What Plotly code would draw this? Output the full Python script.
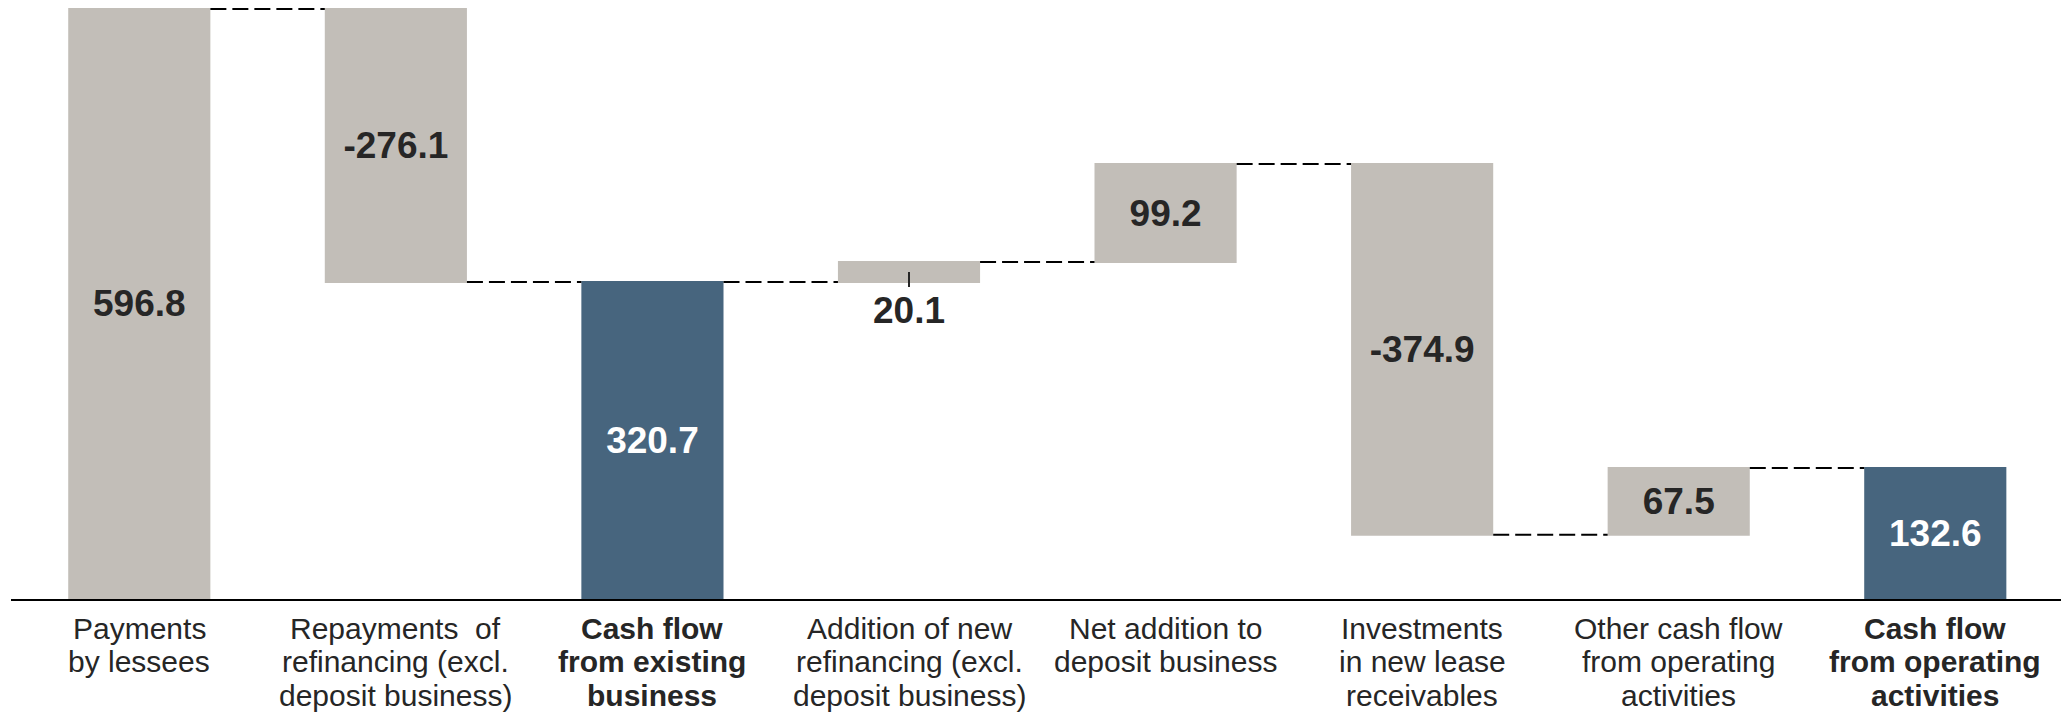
import plotly.graph_objects as go

# Cash flow bridge (EUR m)
categories = [
    "Payments<br>by lessees",
    "Repayments  of<br>refinancing (excl.<br>deposit business)",
    "Cash flow<br>from existing<br>business",
    "Addition of new<br>refinancing (excl.<br>deposit business)",
    "Net addition to<br>deposit business",
    "Investments<br>in new lease<br>receivables",
    "Other cash flow<br>from operating<br>activities",
    "Cash flow<br>from operating<br>activities",
]
values = [596.8, -276.1, 320.7, 20.1, 99.2, -374.9, 67.5, 132.6]
measures = ["relative", "relative", "total", "relative", "relative", "relative", "relative", "total"]
value_labels = ["596.8", "-276.1", "320.7", "20.1", "99.2", "-374.9", "67.5", "132.6"]
# bars whose value label sits below the bar with a short leader line
label_below = [False, False, False, True, False, False, False, False]

GREY = "#C2BEB8"
BLUE = "#47657E"
TEXT = "#262626"
FONT = "Liberation Sans, Arial, sans-serif"

x = list(range(len(values)))

text_colors = ["white" if m == "total" else TEXT for m in measures]
text_pos = ["none" if b else "inside" for b in label_below]

fig = go.Figure()
fig.add_trace(go.Waterfall(
    x=x,
    y=values,
    measure=measures,
    text=[f"<b>{t}</b>" for t in value_labels],
    texttemplate="%{text}",
    textposition=text_pos,
    insidetextanchor="middle",
    textangle=0,
    constraintext="none",
    textfont=dict(family=FONT, size=37, color=text_colors),
    increasing=dict(marker=dict(color=GREY, line=dict(width=0))),
    decreasing=dict(marker=dict(color=GREY, line=dict(width=0))),
    totals=dict(marker=dict(color=BLUE, line=dict(width=0))),
    connector=dict(mode="between", line=dict(color="black", width=2, dash="16px,6px")),
    width=0.554,
    hoverinfo="skip",
))

annotations = []
shapes = []

# running level to place labels that sit outside their bar
level = 0.0
for i, (v, m) in enumerate(zip(values, measures)):
    if m == "total":
        base, top = 0.0, v
        level = v
    else:
        base, top = level, level + v
        level = top
    if label_below[i]:
        low, high = min(base, top), max(base, top)
        shapes.append(dict(
            type="line", xref="x", yref="y",
            x0=i, x1=i, ysizemode="pixel", yanchor=(low + high) / 2,
            y0=0, y1=-15, line=dict(color=TEXT, width=2),
        ))
        annotations.append(dict(
            x=i, y=low, xref="x", yref="y", showarrow=False,
            text=f"<b>{value_labels[i]}</b>", yanchor="middle", yshift=-29,
            font=dict(family=FONT, size=37, color=TEXT),
        ))

# category labels, one annotation per line for tight line spacing
for i, (cat, m) in enumerate(zip(categories, measures)):
    for j, line in enumerate(cat.split("<br>")):
        annotations.append(dict(
            x=i, y=0, xref="x", yref="paper", showarrow=False,
            text=f"<b>{line}</b>" if m == "total" else line,
            yanchor="middle", yshift=-(29.5 + 33.3 * j),
            font=dict(family=FONT, size=30, color=TEXT),
        ))

fig.update_layout(
    width=2061, height=715,
    margin=dict(l=11, r=0, t=6, b=116),
    paper_bgcolor="white", plot_bgcolor="white",
    showlegend=False,
    xaxis=dict(range=[-0.5, 7.49], showticklabels=False, showgrid=False, zeroline=False,
               showline=True, linecolor="black", linewidth=2, ticks=""),
    yaxis=dict(range=[0, 599.8], visible=False, showgrid=False, zeroline=False),
    annotations=annotations,
    shapes=shapes,
)

fig.write_html("out.html")
